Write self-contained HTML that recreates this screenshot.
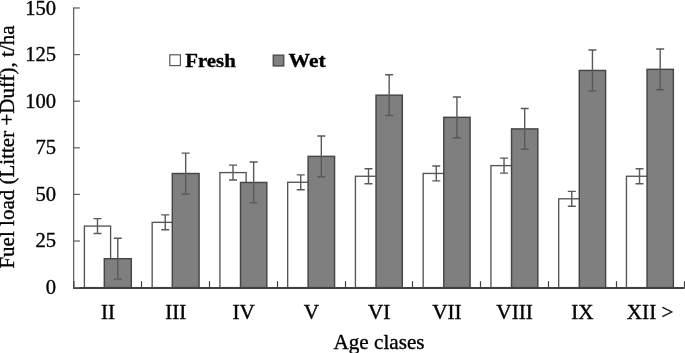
<!DOCTYPE html><html><head><meta charset="utf-8"><style>html,body{margin:0;padding:0;background:#fff}svg{display:block;will-change:transform}text{font-family:"Liberation Serif",serif;fill:#000;stroke:#000;stroke-width:0.35px;stroke-linejoin:round}</style></head><body>
<svg width="685" height="353" viewBox="0 0 685 353">
<rect x="84.40" y="226.09" width="26.20" height="61.51" fill="#fff" stroke="#555" stroke-width="1.35"/>
<rect x="104.30" y="258.71" width="27.00" height="28.89" fill="#7f7f7f" stroke="#464646" stroke-width="1.45"/>
<path d="M97.50 218.63V233.54M93.50 218.63H101.50M93.50 233.54H101.50" stroke="#595959" stroke-width="1.4" fill="none"/>
<path d="M117.80 238.30V279.12M113.80 238.30H121.80M113.80 279.12H121.80" stroke="#595959" stroke-width="1.4" fill="none"/>
<rect x="152.16" y="222.36" width="26.20" height="65.24" fill="#fff" stroke="#555" stroke-width="1.35"/>
<rect x="172.31" y="173.52" width="26.75" height="114.08" fill="#7f7f7f" stroke="#464646" stroke-width="1.45"/>
<path d="M165.26 214.90V229.82M161.26 214.90H169.26M161.26 229.82H169.26" stroke="#595959" stroke-width="1.4" fill="none"/>
<path d="M185.68 153.11V193.93M181.68 153.11H189.68M181.68 193.93H189.68" stroke="#595959" stroke-width="1.4" fill="none"/>
<rect x="219.91" y="172.59" width="26.20" height="115.01" fill="#fff" stroke="#555" stroke-width="1.35"/>
<rect x="240.51" y="182.47" width="26.30" height="105.13" fill="#7f7f7f" stroke="#464646" stroke-width="1.45"/>
<path d="M233.01 165.14V180.05M229.01 165.14H237.01M229.01 180.05H237.01" stroke="#595959" stroke-width="1.4" fill="none"/>
<path d="M253.66 162.06V202.88M249.66 162.06H257.66M249.66 202.88H257.66" stroke="#595959" stroke-width="1.4" fill="none"/>
<rect x="287.67" y="182.28" width="26.20" height="105.32" fill="#fff" stroke="#555" stroke-width="1.35"/>
<rect x="308.07" y="156.37" width="26.50" height="131.23" fill="#7f7f7f" stroke="#464646" stroke-width="1.45"/>
<path d="M300.77 174.83V189.74M296.77 174.83H304.77M296.77 189.74H304.77" stroke="#595959" stroke-width="1.4" fill="none"/>
<path d="M321.32 135.96V176.79M317.32 135.96H325.32M317.32 176.79H325.32" stroke="#595959" stroke-width="1.4" fill="none"/>
<rect x="355.42" y="176.25" width="26.20" height="111.35" fill="#fff" stroke="#555" stroke-width="1.35"/>
<rect x="376.02" y="95.16" width="26.30" height="192.44" fill="#7f7f7f" stroke="#464646" stroke-width="1.45"/>
<path d="M368.52 168.79V183.70M364.52 168.79H372.52M364.52 183.70H372.52" stroke="#595959" stroke-width="1.4" fill="none"/>
<path d="M389.17 74.75V115.57M385.17 74.75H393.17M385.17 115.57H393.17" stroke="#595959" stroke-width="1.4" fill="none"/>
<rect x="423.18" y="173.45" width="26.20" height="114.15" fill="#fff" stroke="#555" stroke-width="1.35"/>
<rect x="443.78" y="117.34" width="26.30" height="170.26" fill="#7f7f7f" stroke="#464646" stroke-width="1.45"/>
<path d="M436.28 165.99V180.91M432.28 165.99H440.28M432.28 180.91H440.28" stroke="#595959" stroke-width="1.4" fill="none"/>
<path d="M456.93 96.93V137.75M452.93 96.93H460.93M452.93 137.75H460.93" stroke="#595959" stroke-width="1.4" fill="none"/>
<rect x="490.93" y="165.62" width="26.20" height="121.98" fill="#fff" stroke="#555" stroke-width="1.35"/>
<rect x="511.53" y="128.90" width="26.30" height="158.70" fill="#7f7f7f" stroke="#464646" stroke-width="1.45"/>
<path d="M504.03 158.17V173.08M500.03 158.17H508.03M500.03 173.08H508.03" stroke="#595959" stroke-width="1.4" fill="none"/>
<path d="M524.68 108.49V149.31M520.68 108.49H528.68M520.68 149.31H528.68" stroke="#595959" stroke-width="1.4" fill="none"/>
<rect x="558.69" y="198.80" width="26.20" height="88.80" fill="#fff" stroke="#555" stroke-width="1.35"/>
<rect x="579.29" y="70.46" width="26.30" height="217.14" fill="#7f7f7f" stroke="#464646" stroke-width="1.45"/>
<path d="M571.79 191.34V206.26M567.79 191.34H575.79M567.79 206.26H575.79" stroke="#595959" stroke-width="1.4" fill="none"/>
<path d="M592.44 50.05V90.88M588.44 50.05H596.44M588.44 90.88H596.44" stroke="#595959" stroke-width="1.4" fill="none"/>
<rect x="626.44" y="176.25" width="26.20" height="111.35" fill="#fff" stroke="#555" stroke-width="1.35"/>
<rect x="647.04" y="69.35" width="26.30" height="218.25" fill="#7f7f7f" stroke="#464646" stroke-width="1.45"/>
<path d="M639.54 168.79V183.70M635.54 168.79H643.54M635.54 183.70H643.54" stroke="#595959" stroke-width="1.4" fill="none"/>
<path d="M660.19 48.94V89.76M656.19 48.94H664.19M656.19 89.76H664.19" stroke="#595959" stroke-width="1.4" fill="none"/>
<path d="M73.65 7.40V287.60" stroke="#595959" stroke-width="1.2" fill="none"/>
<path d="M73.05 288H684.6" stroke="#404040" stroke-width="1.8" fill="none"/>
<path d="M73.1 287.60H79.9" stroke="#606060" stroke-width="1.25"/>
<text transform="translate(56.10 294.05) scale(1.01 1)" font-size="20.4" text-anchor="end">0</text>
<path d="M73.1 241.00H79.9" stroke="#606060" stroke-width="1.25"/>
<text transform="translate(56.10 247.45) scale(1.01 1)" font-size="20.4" text-anchor="end">25</text>
<path d="M73.1 194.40H79.9" stroke="#606060" stroke-width="1.25"/>
<text transform="translate(56.10 200.85) scale(1.01 1)" font-size="20.4" text-anchor="end">50</text>
<path d="M73.1 147.80H79.9" stroke="#606060" stroke-width="1.25"/>
<text transform="translate(56.10 154.25) scale(1.01 1)" font-size="20.4" text-anchor="end">75</text>
<path d="M73.1 101.20H79.9" stroke="#606060" stroke-width="1.25"/>
<text transform="translate(56.10 107.65) scale(1.01 1)" font-size="20.4" text-anchor="end">100</text>
<path d="M73.1 54.60H79.9" stroke="#606060" stroke-width="1.25"/>
<text transform="translate(56.10 61.05) scale(1.01 1)" font-size="20.4" text-anchor="end">125</text>
<path d="M73.1 8.00H79.9" stroke="#606060" stroke-width="1.25"/>
<text transform="translate(56.10 15.15) scale(1.01 1)" font-size="20.4" text-anchor="end">150</text>
<path d="M73.90 287.60V281.2" stroke="#404040" stroke-width="1.2"/>
<path d="M141.50 287.60V281.2" stroke="#404040" stroke-width="1.2"/>
<path d="M209.50 287.60V281.2" stroke="#404040" stroke-width="1.2"/>
<path d="M277.50 287.60V281.2" stroke="#404040" stroke-width="1.2"/>
<path d="M345.50 287.60V281.2" stroke="#404040" stroke-width="1.2"/>
<path d="M412.50 287.60V281.2" stroke="#404040" stroke-width="1.2"/>
<path d="M480.50 287.60V281.2" stroke="#404040" stroke-width="1.2"/>
<path d="M548.50 287.60V281.2" stroke="#404040" stroke-width="1.2"/>
<path d="M616.50 287.60V281.2" stroke="#404040" stroke-width="1.2"/>
<path d="M684.50 287.60V281.2" stroke="#404040" stroke-width="1.2"/>
<text transform="translate(108.08 318.90) scale(1.04 1)" font-size="20.4" text-anchor="middle">II</text>
<text transform="translate(175.83 318.90) scale(1.04 1)" font-size="20.4" text-anchor="middle">III</text>
<text transform="translate(243.59 318.90) scale(1.04 1)" font-size="20.4" text-anchor="middle">IV</text>
<text transform="translate(311.34 318.90) scale(1.04 1)" font-size="20.4" text-anchor="middle">V</text>
<text transform="translate(379.10 318.90) scale(1.04 1)" font-size="20.4" text-anchor="middle">VI</text>
<text transform="translate(446.86 318.90) scale(1.04 1)" font-size="20.4" text-anchor="middle">VII</text>
<text transform="translate(514.61 318.90) scale(1.04 1)" font-size="20.4" text-anchor="middle">VIII</text>
<text transform="translate(582.37 318.90) scale(1.04 1)" font-size="20.4" text-anchor="middle">IX</text>
<text transform="translate(650.12 318.90) scale(1.04 1)" font-size="20.4" text-anchor="middle">XII &gt;</text>
<text transform="translate(379.00 348.90) scale(1.04 1)" font-size="20.4" text-anchor="middle">Age clases</text>
<text transform="translate(13.85 147.00) rotate(-90) scale(1.031 1)" font-size="20.4" text-anchor="middle">Fuel load (Litter +Duff), t/ha</text>
<rect x="169.8" y="54.8" width="10.6" height="10.8" fill="#fff" stroke="#595959" stroke-width="1.2"/>
<text transform="translate(185.20 67.00) scale(1.075 1)" font-size="19.4" text-anchor="start" font-weight="bold">Fresh</text>
<rect x="273.2" y="55.1" width="10.6" height="10.9" fill="#7f7f7f" stroke="#404040" stroke-width="1.2"/>
<text transform="translate(288.60 67.00) scale(1.11 1)" font-size="19.4" text-anchor="start" font-weight="bold">Wet</text>
</svg></body></html>
